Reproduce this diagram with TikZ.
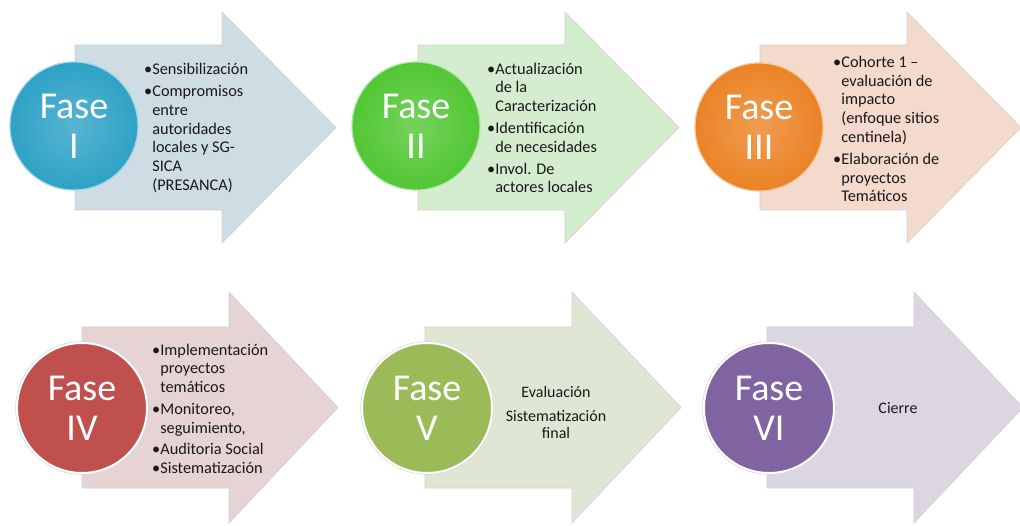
\documentclass[tikz,border=0pt]{standalone}
\usepackage{fontspec}
\setmainfont{Carlito}
\usepackage{xcolor}
\usepackage{tikz}
\usetikzlibrary{positioning}
\usetikzlibrary{calc}

\definecolor{azul}{HTML}{2EA2C6}
\definecolor{azulclaro}{HTML}{CEDCE3}
\definecolor{verde}{HTML}{52C734}
\definecolor{verdeclaro}{HTML}{D4EDCF}
\definecolor{naranja}{HTML}{EB8325}
\definecolor{naranjaclaro}{HTML}{F4D9CD}
\definecolor{rojo}{HTML}{C0504D}
\definecolor{rojoclaro}{HTML}{E6D3D3}
\definecolor{olivo}{HTML}{9BBB59}
\definecolor{olivoclaro}{HTML}{DFE7D4}
\definecolor{morado}{HTML}{8064A2}
\definecolor{moradoclaro}{HTML}{DCD6E3}

\newcommand{\sangria}{\hphantom{•}}

\tikzstyle{fasearrow}=[draw=black!18,line width=0.6pt]
\tikzstyle{topcircle}=[circle,minimum size=128pt,inner sep=0pt,align=center,line width=1.2pt,text=white,font=\fontsize{38}{40}\selectfont]
\tikzstyle{flatcircle}=[circle,minimum size=130pt,inner sep=0pt,align=center,draw=white,line width=2pt,text=white,font=\fontsize{38}{40}\selectfont,preaction={draw=black!15,line width=3.4pt}]
\tikzstyle{fasetext}=[anchor=west,align=left,inner sep=0pt,text=black!90,font=\fontsize{16.3}{18.8}\selectfont]
\tikzset{midtext/.style={align=center,inner sep=0pt,text=black!90,font=\fontsize{16}{17}\selectfont}}

\begin{document}
\begin{tikzpicture}[x=1pt,y=-1pt]

 \useasboundingbox (0,0) rectangle (1020,526);

 %top row
  \def\alto{165};
  \def\ala{33};
  \def\cuerpo{147};
  \def\punta{261};

 %Fase I
  \def\dx{75};
  \def\dy{45};

 \draw[fasearrow, fill=azulclaro] (\dx,\dy) -- ++(\cuerpo,0) -- ++(0,-\ala) -- (\dx+\punta,\dy+\alto/2)
      -- (\dx+\cuerpo,\dy+\alto+\ala) -- ++(0,-\ala) -- (\dx,\dy+\alto) -- cycle;
 \node[topcircle, inner color=azul!80!white, outer color=azul, draw=azul!45!white] (f1) at (\dx-1,\dy+81) {Fase\\I};
 \node[fasetext] (t1) at (\dx+69,\dy+83) {•Sensibilización\\[3pt] •Compromisos\\ \sangria entre\\ \sangria autoridades\\
      \sangria locales y SG-\\ \sangria SICA\\ \sangria (PRESANCA)};

 %Fase II
  \def\dx{418};
  \def\dy{45};

 \draw[fasearrow, fill=verdeclaro] (\dx,\dy) -- ++(\cuerpo,0) -- ++(0,-\ala) -- (\dx+\punta,\dy+\alto/2)
      -- (\dx+\cuerpo,\dy+\alto+\ala) -- ++(0,-\ala) -- (\dx,\dy+\alto) -- cycle;
 \node[topcircle, inner color=verde!80!white, outer color=verde, draw=verde!45!white] (f2) at (\dx-2,\dy+81) {Fase\\II};
 \node[fasetext] (t2) at (\dx+69,\dy+83) {•Actualización\\ \sangria de la\\ \sangria Caracterización\\[3pt]
      •Identificación\\ \sangria de necesidades\\[3pt] •Invol. De\\ \sangria actores locales};

 %Fase III
  \def\dx{760};
  \def\dy{45};

 \draw[fasearrow, fill=naranjaclaro] (\dx,\dy) -- ++(\cuerpo,0) -- ++(0,-\ala) -- (\dx+\punta,\dy+\alto/2)
      -- (\dx+\cuerpo,\dy+\alto+\ala) -- ++(0,-\ala) -- (\dx,\dy+\alto) -- cycle;
 \node[topcircle, inner color=naranja!80!white, outer color=naranja, draw=naranja!45!white] (f3) at (\dx-1,\dy+82) {Fase\\III};
 \node[fasetext] (t3) at (\dx+73,\dy+84) {•Cohorte 1 –\\ \sangria evaluación de\\ \sangria impacto\\ \sangria (enfoque sitios\\
      \sangria centinela)\\[3pt] •Elaboración de\\ \sangria proyectos\\ \sangria Temáticos};

 %bottom row
  \def\alto{161};
  \def\ala{35};
  \def\cuerpo{147};
  \def\punta{256};

 %Fase IV
  \def\dx{82};
  \def\dy{327};

 \draw[fasearrow, fill=rojoclaro] (\dx,\dy) -- ++(\cuerpo,0) -- ++(0,-\ala) -- (\dx+\punta,\dy+\alto/2)
      -- (\dx+\cuerpo,\dy+\alto+\ala) -- ++(0,-\ala) -- (\dx,\dy+\alto) -- cycle;
 \node[flatcircle, fill=rojo] (f4) at (\dx,\dy+81) {Fase\\IV};
 \node[fasetext] (t4) at (\dx+70,\dy+82) {•Implementación\\ \sangria proyectos\\ \sangria temáticos\\[3pt]
      •Monitoreo,\\ \sangria seguimiento,\\[2pt] •Auditoria Social\\[1pt] •Sistematización};

 %Fase V
  \def\dx{425};
  \def\dy{327};

 \draw[fasearrow, fill=olivoclaro] (\dx,\dy) -- ++(\cuerpo,0) -- ++(0,-\ala) -- (\dx+\punta,\dy+\alto/2)
      -- (\dx+\cuerpo,\dy+\alto+\ala) -- ++(0,-\ala) -- (\dx,\dy+\alto) -- cycle;
 \node[flatcircle, fill=olivo] (f5) at (\dx+2,\dy+81) {Fase\\V};
 \node[midtext] (t5) at (\dx+131,\dy+86) {Evaluación\\[7pt] Sistematización\\ final};

 %Fase VI
  \def\dx{767};
  \def\dy{327};

 \draw[fasearrow, fill=moradoclaro] (\dx,\dy) -- ++(\cuerpo,0) -- ++(0,-\ala) -- (\dx+\punta,\dy+\alto/2)
      -- (\dx+\cuerpo,\dy+\alto+\ala) -- ++(0,-\ala) -- (\dx,\dy+\alto) -- cycle;
 \node[flatcircle, fill=morado] (f6) at (\dx+2,\dy+81) {Fase\\VI};
 \node[midtext] (t6) at (\dx+131,\dy+81) {Cierre};

\end{tikzpicture}
\end{document}
